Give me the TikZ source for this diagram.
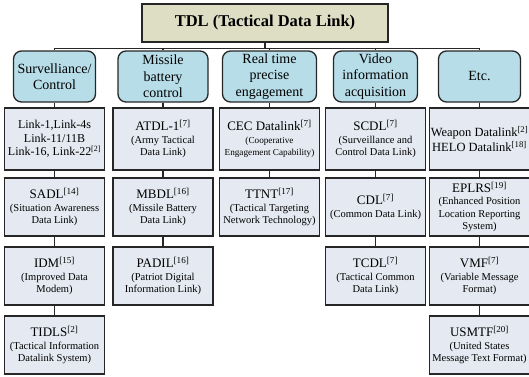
\documentclass[tikz,border=0pt]{standalone}
\usepackage{fontspec}
\setmainfont{Liberation Serif}
\definecolor{titlefill}{RGB}{221,222,196}
\definecolor{groupfill}{RGB}{183,221,232}
\definecolor{linkfill}{RGB}{229,234,242}
\newcommand{\nm}[1]{{\fontsize{13}{15}\selectfont #1}}
\newcommand{\rf}[1]{\textsuperscript{[#1]}}
\newcommand{\cf}{\fontsize{9.2}{11}\selectfont}

\begin{document}
\begin{tikzpicture}[x=1pt,y=-1pt,
  title/.style={draw=black!85,line width=1.4pt,fill=titlefill,minimum width=246pt,minimum height=38pt,font=\fontsize{16.5}{18}\selectfont\bfseries},
  group/.style={draw=black!85,line width=1.3pt,fill=groupfill,rounded corners=8pt,minimum height=51pt,inner sep=1pt,align=center,font=\fontsize{14}{16.5}\selectfont},
  dlink/.style={draw=black!85,line width=1.2pt,fill=linkfill,minimum width=100pt,minimum height=58pt,inner sep=1pt,align=center,font=\fontsize{10.5}{12.5}\selectfont},
  wire/.style={black!85,line width=1.3pt}]
\useasboundingbox (0,0) rectangle (529,376);

\node[title] at (265,23) (tdl) {TDL (Tactical Data Link)};

\foreach \i/\x/\w/\t in {1/54.5/82/{Survelliance\slash\\Control},
                         2/163/90/{Missile\\battery\\control},
                         3/269.5/94/{Real time\\precise\\engagement},
                         4/375.5/84/{Video\\information\\acquisition},
                         5/479.5/82/{Etc.}}
  \node[group,minimum width=\w pt] at (\x,76.5) (g\i) {\t};

% first row
\node[dlink,minimum height=62pt,font=\fontsize{12}{13.5}\selectfont] at (54.5,139) (l11) {Link-1,Link-4s\\Link-11/11B\\Link-16, Link-22\rf{2}};
\node[dlink,minimum height=62pt] at (163,139) (l21) {\nm{ATDL-1\rf{7}}\\(Army Tactical\\Data Link)};
\node[dlink,minimum height=62pt] at (269.5,139) (l31) {\nm{CEC Datalink\rf{7}}\\\cf(Cooperative\\\cf Engagement Capability)};
\node[dlink,minimum height=62pt] at (375.5,139) (l41) {\nm{SCDL\rf{7}}\\(Surveillance and\\Control Data Link)};
\node[dlink,minimum height=62pt,font=\fontsize{12.5}{14.5}\selectfont] at (479.5,139) (l51) {Weapon Datalink\rf{2}\\HELO Datalink\rf{18}};

% second row
\node[dlink] at (54.5,207) (l12) {\nm{SADL\rf{14}}\\(Situation Awareness\\Data Link)};
\node[dlink] at (163,207) (l22) {\nm{MBDL\rf{16}}\\(Missile Battery\\Data Link)};
\node[dlink] at (269.5,207) (l32) {\nm{TTNT\rf{17}}\\(Tactical Targeting\\Network Technology)};
\node[dlink] at (375.5,207) (l42) {\nm{CDL\rf{7}}\\(Common Data Link)};
\node[dlink] at (479.5,207) (l52) {\nm{EPLRS\rf{19}}\\(Enhanced Position\\Location Reporting\\System)};

% third row
\node[dlink] at (54.5,276) (l13) {\nm{IDM\rf{15}}\\(Improved Data\\Modem)};
\node[dlink] at (163,276) (l23) {\nm{PADIL\rf{16}}\\(Patriot Digital\\Information Link)};
\node[dlink] at (375.5,276) (l43) {\nm{TCDL\rf{7}}\\(Tactical Common\\Data Link)};
\node[dlink] at (479.5,276) (l53) {\nm{VMF\rf{7}}\\(Variable Message\\Format)};

% fourth row
\node[dlink] at (54.5,345) (l14) {\nm{TIDLS\rf{2}}\\(Tactical Information\\Datalink System)};
\node[dlink] at (479.5,345) (l54) {\nm{USMTF\rf{20}}\\(United States\\Message Text Format)};

\foreach \i in {1,...,5}
  \draw[wire] (tdl.south) -- ++(0,6) -| (g\i.north);

\foreach \a/\b in {g1/l11,l11/l12,l12/l13,l13/l14,
                   g2/l21,l21/l22,l22/l23,
                   g3/l31,l31/l32,
                   g4/l41,l41/l42,l42/l43,
                   g5/l51,l51/l52,l52/l53,l53/l54}
  \draw[wire] (\a) -- (\b);
\end{tikzpicture}
\end{document}
